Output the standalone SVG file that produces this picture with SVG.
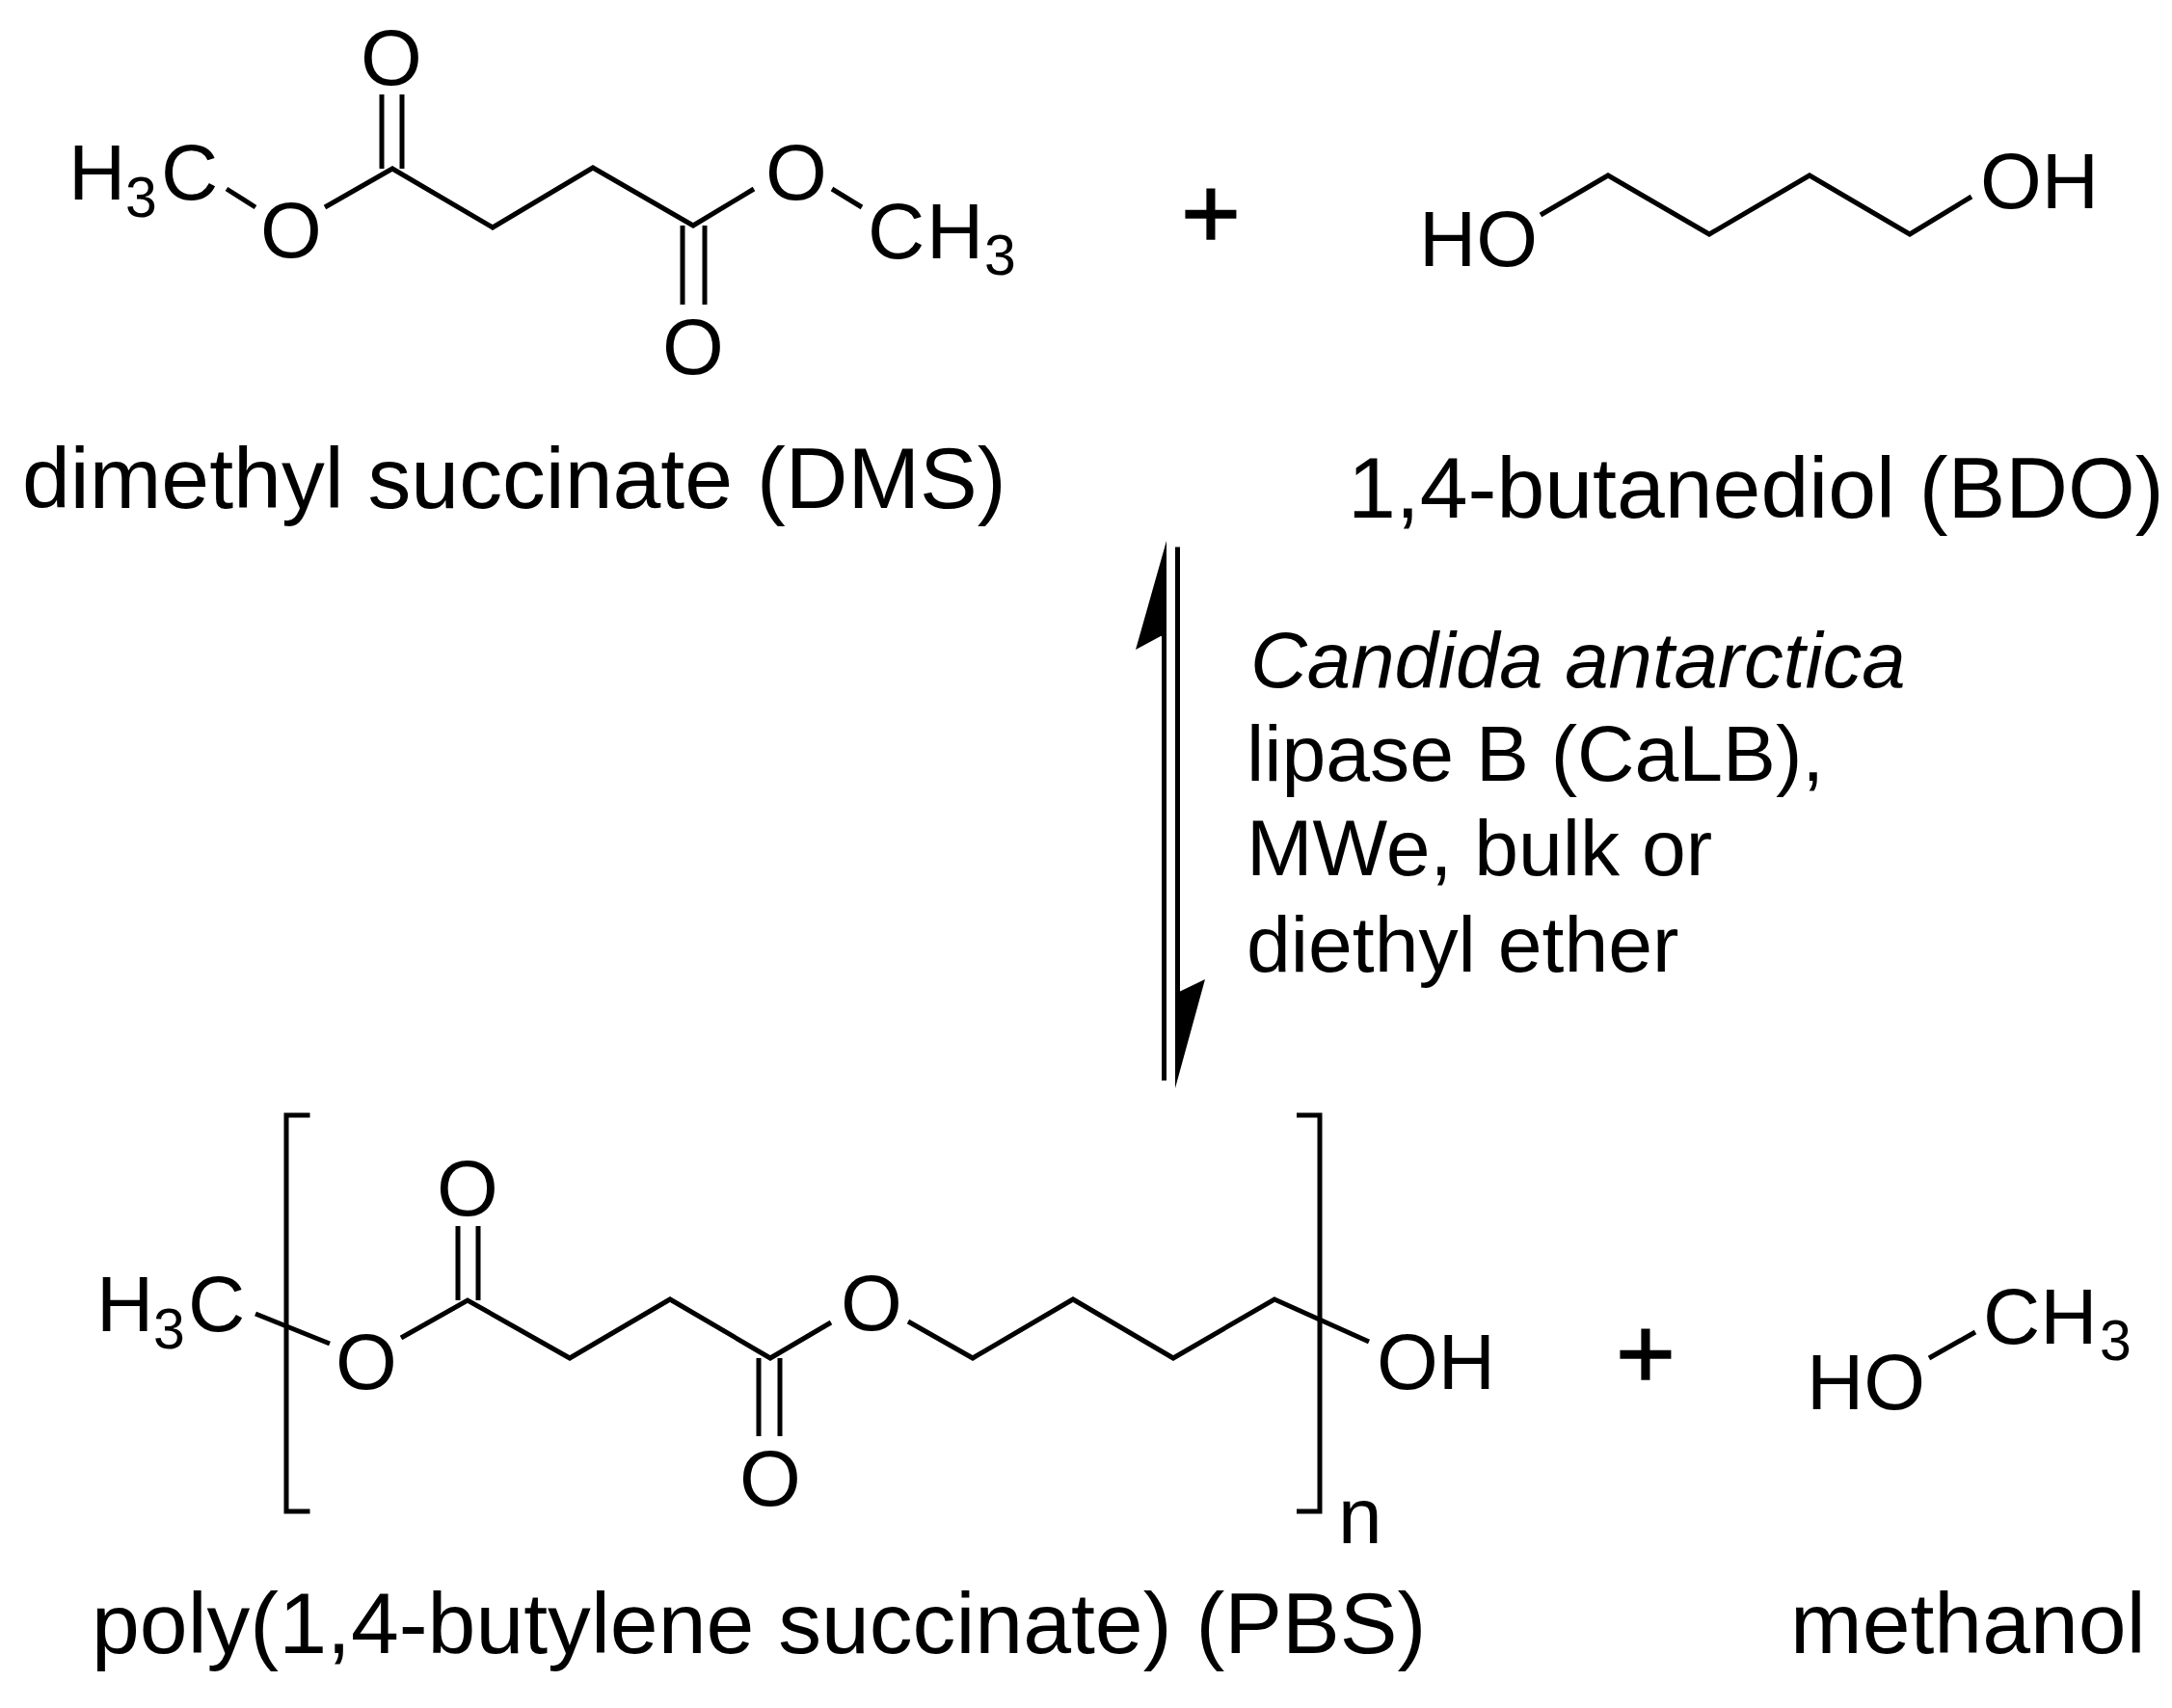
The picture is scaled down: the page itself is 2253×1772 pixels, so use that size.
<svg xmlns="http://www.w3.org/2000/svg" width="2253" height="1772" viewBox="0 0 2253 1772">
<style>
text{font-family:"Liberation Sans",Arial,sans-serif;fill:#000}
.a{font-size:82px}
.s{font-size:59px}
.l{font-size:89.600px}
.c{font-size:82.300px}
.i{font-size:81.500px;font-style:italic}
.p{font-size:106px;text-anchor:middle;stroke:#000;stroke-width:1.500px}
.b{fill:none;stroke:#000;stroke-width:5;stroke-linejoin:miter}
.r{fill:none;stroke:#000;stroke-width:5}
</style>
<rect width="2253" height="1772" fill="#fff"/>
<g id="dms">
<path class="b" d="M235 196L265 215M337 215L407 175L511 236L615 174L719 234L782 196M863 196L894 215M396 98V175M417 98V175M708 234V316M731 234V316"/>
<text class="a" x="374" y="88" >O</text>
<text class="a" x="71" y="207">H<tspan class="s" x="130" y="225">3</tspan><tspan x="167" y="207">C</tspan></text>
<text class="a" x="270" y="267">O</text>
<text class="a" x="794" y="207">O</text>
<text class="a" x="900" y="268">C<tspan x="961">H</tspan><tspan class="s" x="1021" y="285">3</tspan></text>
<text class="a" x="687" y="388">O</text>
</g>
<g id="dms-label"><text class="l" x="23" y="527">dimethyl succinate (DMS)</text></g>
<g id="plus-top"><text class="p" x="1256" y="257">+</text></g>
<g id="bdo">
<path class="b" d="M1598 223L1668 182L1773 243L1877 182L1981 243L2045 204"/>
<text class="a" x="1472" y="276">HO</text>
<text class="a" x="2054" y="216">OH</text>
</g>
<g id="bdo-label"><text class="l" x="1398" y="537">1,4-butanediol (BDO)</text></g>
<g id="connectors">
<path class="r" d="M1207.500 600V1121M1221.500 567.500V1100"/>
<path d="M1210 561L1178 674L1204 660L1210 660Z M1219 1129L1250 1016L1223 1029L1219 1030Z" fill="#000"/>
</g>
<g id="conditions">
<text class="i" x="1297" y="713">Candida antarctica</text>
<text class="c" x="1293" y="810">lipase B (CaLB),</text>
<text class="c" x="1293" y="908">MWe, bulk or</text>
<text class="c" x="1293" y="1008">diethyl ether</text>
</g>
<g id="pbs">
<path class="r" d="M321.500 1157H297V1568H321.500M1345 1157H1369V1568H1345"/>
<path class="b" d="M265 1363L342 1394M416 1388L485 1349L591 1409L695 1348L799 1409L862 1372M942 1371L1009 1409L1113 1348L1217 1409L1322 1348L1420 1392M475 1272V1349M496 1272V1349M787 1409V1490M809 1409V1490"/>
<text class="a" x="100" y="1381">H<tspan class="s" x="159" y="1399">3</tspan><tspan x="195" y="1381">C</tspan></text>
<text class="a" x="348" y="1441">O</text>
<text class="a" x="453" y="1261">O</text>
<text class="a" x="872" y="1380">O</text>
<text class="a" x="767" y="1562">O</text>
<text class="a" x="1428" y="1441">OH</text>
<text class="a" x="1388" y="1601">n</text>
</g>
<g id="pbs-label"><text class="l" x="95" y="1715">poly(1,4-butylene succinate) (PBS)</text></g>
<g id="plus-bottom"><text class="p" x="1707" y="1440">+</text></g>
<g id="methanol">
<path class="b" d="M2001 1409L2049 1382"/>
<text class="a" x="1874" y="1462">HO</text>
<text class="a" x="2057" y="1394">CH<tspan class="s" x="2178" y="1411">3</tspan></text>
</g>
<g id="methanol-label"><text class="l" x="1857" y="1715">methanol</text></g>
</svg>
